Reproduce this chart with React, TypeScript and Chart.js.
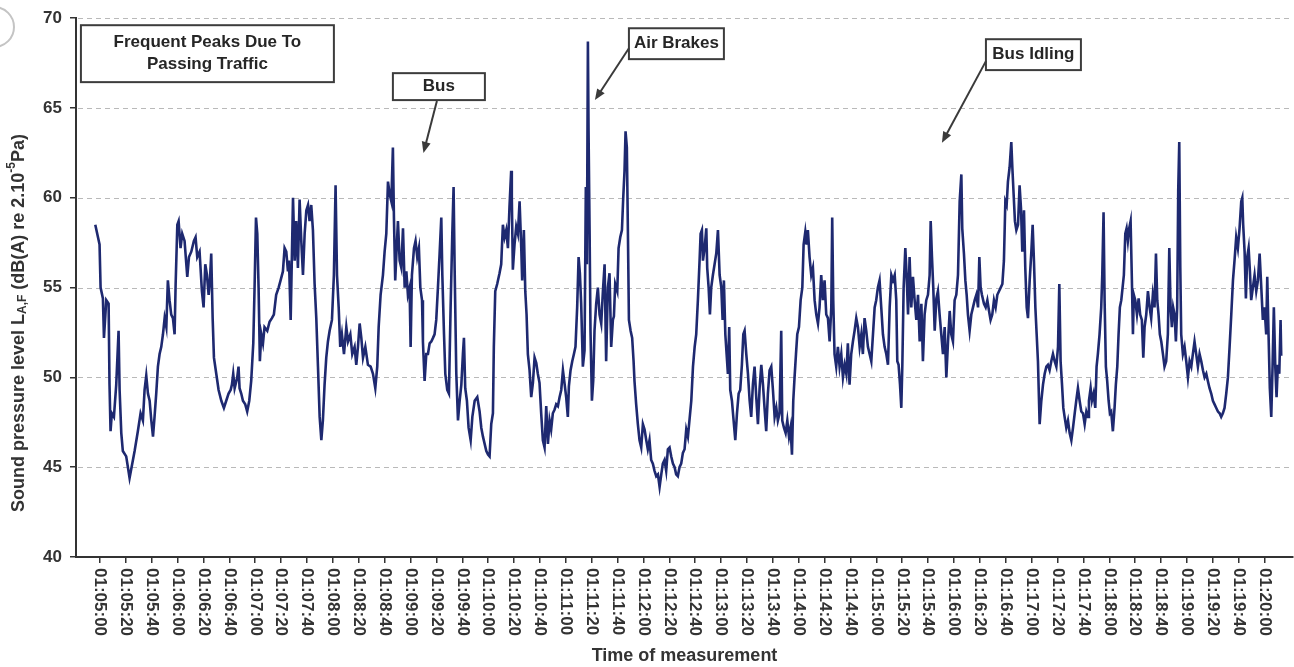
import { useEffect, useRef } from 'react';
import { Chart, registerables } from 'chart.js';

Chart.register(...registerables);

const FONT = '"Liberation Sans", Arial, Helvetica, sans-serif';

// time in seconds after 01:00:00, level in dB(A)
const SEGMENT_1: [number, number][] = [
  [296.4, 58.5], [299.7, 57.4], [300.5, 55.0], [302.3, 54.4], [303.1, 52.2], [304.9, 54.3], [306.7, 54.1], [307.4, 49.6],
  [308.2, 47.0], [309.2, 48.0], [310.8, 47.8], [312.6, 49.6], [314.4, 52.6], [315.2, 49.3], [316.5, 46.9], [317.7, 45.9],
  [320.3, 45.6], [322.9, 44.4], [325.5, 45.4], [326.8, 45.9], [329.3, 47.0], [331.4, 48.0], [333.2, 47.6], [334.5, 49.3],
  [335.8, 50.1], [337.1, 49.1], [338.4, 48.7], [339.7, 47.6], [341.0, 46.7], [342.2, 47.8], [343.5, 49.1], [344.8, 50.6],
  [346.1, 51.3], [347.4, 51.7], [348.7, 52.4], [350.0, 53.3], [351.3, 52.8], [352.5, 55.4], [353.8, 54.3], [355.1, 53.5],
  [356.4, 53.3], [357.7, 52.4], [358.5, 55.2], [359.8, 58.5], [360.8, 58.7], [362.3, 57.2], [363.6, 58.0], [365.4, 57.6],
  [367.5, 55.6], [368.8, 56.7], [370.6, 57.0], [372.6, 57.6], [373.9, 57.8], [375.2, 56.7], [377.0, 57.0], [378.8, 54.8],
  [380.1, 53.9], [381.4, 56.3], [382.7, 55.7], [384.0, 54.6], [385.0, 55.4], [386.0, 56.9], [387.1, 53.3], [388.1, 51.1],
  [389.9, 50.2], [391.7, 49.3], [393.8, 48.7], [395.8, 48.3], [397.6, 48.7], [399.4, 49.1], [401.0, 49.3], [402.0, 49.6],
  [403.0, 50.2], [404.1, 49.4], [406.1, 50.0], [407.1, 50.6], [407.9, 49.4], [409.2, 49.1], [410.5, 48.7], [412.3, 48.5],
  [413.8, 48.1], [415.4, 48.7], [416.9, 49.8], [418.5, 51.9], [419.5, 55.0], [420.6, 58.9], [421.6, 58.0], [422.6, 55.0],
  [423.6, 50.9], [424.7, 52.4], [426.0, 51.9], [427.2, 52.8], [429.3, 52.6], [431.1, 53.1], [432.9, 53.3], [434.4, 53.5],
  [436.2, 54.6], [438.1, 55.0], [439.6, 55.4], [441.4, 55.9], [442.7, 57.2], [444.0, 57.0], [445.3, 55.9],
];

const SEGMENT_2: [number, number][] = [
  [446.1, 56.5], [447.4, 53.2], [449.2, 60.0], [450.5, 56.5], [451.7, 58.7], [453.0, 56.1], [454.3, 59.9], [455.6, 57.6],
  [456.9, 55.7], [458.2, 58.0], [459.5, 59.3], [460.8, 59.6], [462.0, 58.7], [463.3, 59.6], [464.6, 58.2], [465.9, 55.2],
  [467.2, 53.3], [468.5, 50.6], [469.8, 47.8], [471.1, 46.5], [472.3, 47.6], [473.6, 49.6], [474.9, 51.1], [476.2, 52.0],
  [477.5, 52.6], [479.3, 53.2], [480.8, 55.7], [482.1, 60.7], [483.2, 55.7], [484.5, 53.9], [485.7, 51.7], [487.0, 52.4],
  [488.6, 51.3], [490.4, 52.8], [491.7, 52.0], [493.5, 52.4], [495.0, 51.3], [496.8, 51.7], [498.1, 50.7], [499.4, 51.7],
  [500.7, 53.0], [502.0, 52.2], [503.3, 51.1], [505.1, 51.7], [507.1, 50.7], [509.2, 50.6], [511.0, 50.2], [512.8, 49.4],
  [514.3, 50.6], [515.4, 52.8], [516.9, 54.6], [518.7, 55.7], [520.0, 57.0], [521.3, 58.0], [522.6, 60.9], [523.9, 60.2],
  [525.2, 59.8], [526.4, 62.8], [527.2, 58.9], [528.2, 55.4], [529.3, 57.2], [530.3, 58.7], [531.6, 56.5], [532.9, 56.1],
  [534.2, 58.3], [535.5, 55.0], [536.8, 55.9], [538.0, 54.6], [539.3, 55.0], [540.1, 51.7], [541.1, 55.7], [542.7, 57.2],
  [543.9, 57.6], [545.2, 56.7], [546.5, 57.2], [547.6, 55.0], [548.9, 54.3], [549.6, 52.0], [550.9, 49.8], [552.2, 51.3],
  [553.5, 51.3], [554.8, 51.9], [556.1, 52.0], [557.4, 52.2], [558.6, 52.4], [559.9, 53.2], [561.2, 55.0], [562.5, 56.9],
  [563.8, 58.9], [564.6, 55.7], [565.9, 52.4], [566.9, 50.2], [568.4, 49.3], [569.7, 49.1], [571.0, 53.9], [572.3, 58.0],
  [573.3, 60.6], [574.1, 56.1], [575.4, 50.2], [576.7, 47.6], [578.0, 48.7], [579.3, 49.6], [580.5, 51.3], [581.3, 52.2],
  [582.3, 49.4], [583.6, 48.7], [584.9, 47.2], [586.5, 46.5], [587.8, 47.8], [589.6, 48.7], [591.6, 48.9], [593.4, 48.1],
  [594.7, 47.2], [596.0, 46.7], [597.3, 46.3], [598.6, 45.9], [599.9, 45.7],
];

const SEGMENT_3: [number, number][] = [
  [601.1, 45.6], [602.4, 47.4], [603.7, 48.0], [604.4, 51.7], [605.5, 54.8], [607.0, 55.2], [608.8, 55.8], [610.1, 56.3],
  [611.4, 58.5], [612.7, 57.8], [614.0, 58.2], [615.3, 57.2], [616.5, 59.5], [617.8, 61.5], [618.3, 60.0], [619.1, 56.0],
  [620.4, 57.4], [621.7, 58.4], [623.0, 58.0], [624.3, 59.8], [625.6, 57.2], [626.3, 55.4], [627.6, 58.2], [628.7, 54.8],
  [629.7, 53.5], [630.7, 51.3], [632.0, 50.4], [633.3, 48.9], [634.6, 49.7], [635.9, 51.1], [637.2, 50.8], [638.4, 50.2],
  [639.7, 49.7], [641.0, 48.0], [642.3, 46.5], [643.6, 46.1], [644.9, 48.4], [646.2, 46.3], [647.5, 47.6], [648.7, 47.1],
  [650.0, 48.0], [651.3, 48.2], [652.6, 48.5], [653.9, 48.4], [655.2, 48.9], [656.5, 49.3], [657.8, 50.4], [659.0, 49.7],
  [660.3, 48.9], [661.6, 47.8], [662.4, 49.5], [663.7, 50.4], [665.0, 50.9], [666.3, 51.3], [667.5, 51.7], [668.8, 53.9],
  [669.9, 56.7], [670.9, 55.8], [671.9, 54.1], [673.2, 50.6], [674.5, 51.5], [675.5, 60.6], [676.3, 56.3], [677.1, 68.7],
  [677.6, 63.7], [678.4, 58.2], [679.1, 52.6], [680.2, 48.7], [681.2, 49.8], [682.2, 52.6], [683.5, 54.1], [684.8, 55.0],
  [686.1, 53.5], [687.4, 53.0], [688.7, 54.8], [690.0, 56.3], [691.2, 50.9], [692.5, 55.0], [693.8, 55.8], [695.1, 51.7],
  [696.4, 53.2], [697.2, 53.4], [698.2, 55.2], [699.8, 54.8], [700.8, 57.2], [702.1, 57.8], [703.4, 58.2], [704.4, 60.0],
  [705.4, 61.5], [706.2, 63.7], [707.2, 62.8], [708.0, 58.2], [708.8, 53.2], [710.1, 52.6], [711.3, 52.2], [712.4, 50.9],
  [713.1, 49.8], [714.4, 48.5], [715.7, 47.4], [717.0, 46.5], [718.3, 46.1], [719.6, 47.4], [720.9, 47.1], [722.2, 46.5],
  [723.4, 46.0], [724.7, 46.5], [726.0, 45.4], [727.3, 45.2], [728.6, 44.8], [729.9, 44.5], [731.2, 44.6], [732.5, 43.9],
  [733.8, 44.6], [735.0, 45.2], [736.3, 45.4], [737.6, 44.8], [738.9, 46.0], [740.2, 46.1], [741.5, 45.6], [742.8, 45.2],
  [744.1, 45.0], [745.3, 44.6], [746.6, 44.5], [747.9, 45.0], [749.2, 45.2], [750.5, 45.8], [751.8, 46.0], [753.1, 47.1],
];

const SEGMENT_4: [number, number][] = [
  [754.4, 46.7], [757.0, 48.7], [758.3, 50.6], [759.6, 51.7], [760.8, 52.4], [762.1, 54.3], [763.4, 56.5], [764.2, 58.0],
  [765.2, 58.2], [766.0, 56.5], [767.3, 57.2], [768.6, 58.3], [769.3, 56.1], [770.4, 55.0], [771.4, 53.5], [772.4, 55.0],
  [773.7, 55.7], [775.0, 56.3], [776.3, 56.9], [777.6, 58.2], [778.9, 55.7], [780.2, 55.0], [781.2, 53.2], [782.2, 55.4],
  [783.3, 52.4], [784.3, 51.3], [785.3, 50.2], [786.3, 52.8], [787.1, 49.3], [788.4, 48.7], [789.7, 47.6], [791.0, 46.5],
  [792.3, 48.0], [793.6, 49.1], [794.8, 49.3], [796.1, 50.7], [797.2, 52.4], [798.2, 52.6], [799.5, 51.3], [800.8, 50.2],
  [802.1, 48.7], [803.3, 47.8], [804.6, 49.6], [805.9, 50.6], [807.2, 48.9], [808.5, 47.4], [809.8, 49.4], [811.1, 50.7],
  [812.4, 49.6], [813.6, 48.3], [814.9, 47.0], [816.2, 49.1], [817.5, 50.4], [818.8, 50.6], [820.1, 49.3], [821.4, 47.8],
  [822.7, 48.3], [823.9, 47.6], [825.2, 48.0], [826.5, 52.6], [827.3, 47.6], [828.6, 47.2], [829.9, 46.9], [831.2, 47.6],
  [832.5, 46.7], [833.7, 47.2], [834.8, 45.7], [835.8, 48.7], [836.8, 50.0], [837.9, 51.3], [838.9, 52.4], [840.2, 52.8],
  [841.5, 54.3], [842.8, 55.0], [843.8, 57.4], [845.1, 58.1], [846.1, 57.4], [847.1, 58.2], [848.4, 56.7], [849.7, 55.7],
  [851.0, 56.1], [852.3, 54.3], [853.6, 53.5], [854.9, 53.0], [856.1, 53.9], [857.4, 55.7], [858.7, 54.3], [860.0, 55.4],
  [861.3, 53.5], [862.6, 53.3], [863.9, 52.0], [865.2, 53.9], [865.9, 58.9], [866.7, 54.3], [867.7, 51.3], [869.0, 50.6],
  [870.3, 51.7], [871.6, 50.6], [872.9, 51.3], [874.2, 50.0], [875.5, 50.7], [876.8, 50.2], [878.0, 51.9], [879.3, 49.6],
  [880.6, 51.3], [881.9, 52.0], [883.2, 52.6], [884.5, 53.3], [885.8, 52.8], [887.1, 51.7], [888.4, 52.4], [889.6, 51.3],
  [890.9, 53.3], [892.2, 52.6], [893.5, 51.7], [894.8, 51.3], [896.1, 50.9], [897.4, 52.4], [898.7, 53.9], [899.9, 54.3],
  [901.2, 55.0], [902.5, 55.4], [903.8, 53.9], [905.1, 52.4], [906.4, 51.7], [907.7, 51.3],
];

const SEGMENT_5: [number, number][] = [
  [909.0, 50.7], [910.3, 53.9], [911.6, 55.7], [912.9, 55.4], [914.2, 55.7], [915.4, 54.3], [916.2, 50.9], [917.2, 50.7],
  [918.3, 49.6], [919.3, 48.3], [920.1, 50.7], [921.1, 55.0], [922.4, 57.2], [923.4, 55.7], [924.5, 53.5], [925.7, 56.7],
  [927.0, 53.9], [928.3, 55.6], [929.6, 54.3], [930.9, 53.2], [932.2, 54.6], [933.5, 52.0], [934.8, 54.1], [936.0, 50.9],
  [937.3, 53.5], [938.6, 54.3], [939.9, 54.6], [941.2, 55.7], [942.0, 58.7], [943.0, 56.7], [944.0, 55.0], [945.1, 52.6],
  [946.4, 54.4], [947.6, 54.8], [948.9, 53.5], [950.2, 52.4], [951.5, 51.3], [952.8, 52.8], [954.1, 50.0], [955.4, 52.0],
  [956.7, 53.7], [957.9, 52.4], [959.2, 52.0], [960.5, 54.3], [961.8, 54.6], [963.1, 55.7], [964.4, 59.8], [965.7, 61.3],
  [966.4, 58.3], [967.7, 56.9], [968.8, 55.4], [969.8, 54.6], [970.8, 53.5], [972.1, 52.6], [973.4, 53.5], [974.7, 53.9],
  [976.0, 54.3], [977.3, 54.6], [978.6, 53.9], [979.6, 56.7], [980.6, 55.0], [981.6, 54.6], [983.2, 54.1], [984.5, 53.9],
  [985.8, 54.3], [987.1, 53.7], [988.3, 53.2], [989.6, 53.5], [990.9, 54.3], [992.2, 53.9], [993.5, 54.6], [994.8, 54.8],
  [996.1, 55.0], [997.4, 55.2], [998.6, 56.5], [999.7, 59.8], [1000.7, 59.6], [1001.7, 60.9], [1003.0, 61.7], [1004.3, 63.1],
  [1005.1, 61.7], [1006.1, 60.2], [1007.1, 58.7], [1008.2, 58.2], [1009.5, 58.5], [1010.7, 60.7], [1011.8, 59.4], [1012.8, 57.0],
  [1014.1, 59.3], [1015.1, 56.1], [1016.2, 53.9], [1017.2, 53.3], [1018.5, 55.4], [1019.8, 57.0], [1020.8, 58.5], [1021.8, 56.5],
  [1022.9, 53.9], [1023.9, 52.4], [1024.9, 50.9], [1026.2, 47.4], [1027.5, 48.7], [1028.8, 49.6], [1030.1, 50.2], [1031.4, 50.6],
  [1032.6, 50.7], [1033.9, 50.4], [1035.2, 50.9], [1036.5, 51.3], [1037.8, 50.9], [1039.1, 50.6], [1040.4, 51.7], [1041.4, 55.2],
  [1042.4, 50.9], [1043.5, 49.6], [1044.5, 48.3], [1045.5, 47.8], [1046.8, 47.2], [1048.1, 47.6], [1049.4, 46.9], [1050.7, 46.5],
  [1052.0, 47.2], [1053.3, 48.0], [1054.5, 48.7], [1055.8, 49.4], [1057.1, 48.7], [1058.4, 48.1], [1059.7, 48.0], [1061.0, 47.4],
  [1062.3, 48.1], [1063.6, 47.8],
];

const SEGMENT_6: [number, number][] = [
  [1064.3, 48.7], [1065.6, 49.4], [1066.6, 48.7], [1067.9, 49.1], [1069.2, 48.3], [1070.2, 50.6], [1071.2, 51.3], [1072.5, 52.4],
  [1073.8, 53.9], [1074.6, 55.7], [1075.6, 59.2], [1076.4, 54.3], [1077.4, 50.6], [1078.4, 49.8], [1079.5, 48.7], [1080.5, 48.0],
  [1081.5, 48.1], [1082.8, 47.0], [1084.1, 48.3], [1085.1, 49.6], [1086.2, 50.6], [1087.2, 52.4], [1088.2, 53.9], [1089.3, 54.3],
  [1090.3, 55.0], [1091.3, 55.7], [1092.4, 58.0], [1093.4, 58.3], [1094.4, 57.6], [1095.4, 58.3], [1096.5, 58.7], [1097.5, 55.4],
  [1098.3, 52.4], [1099.0, 54.6], [1100.1, 54.3], [1101.4, 53.5], [1102.7, 54.4], [1103.9, 53.5], [1105.2, 53.2], [1106.3, 51.1],
  [1107.3, 52.8], [1108.6, 53.5], [1109.9, 54.8], [1111.2, 53.9], [1112.4, 53.3], [1113.7, 54.6], [1115.0, 53.9], [1116.1, 56.9],
  [1117.1, 54.3], [1118.1, 53.5], [1119.1, 52.4], [1120.2, 52.0], [1121.5, 51.3], [1122.7, 50.6], [1124.0, 50.9], [1125.3, 52.4],
  [1126.4, 57.2], [1127.4, 53.9], [1128.4, 52.8], [1129.4, 53.9], [1130.5, 53.5], [1131.5, 52.0], [1132.5, 53.9], [1133.3, 60.4],
  [1134.1, 63.1], [1134.9, 56.1], [1135.6, 52.4], [1136.9, 51.3], [1138.2, 51.7], [1139.5, 50.9], [1140.8, 50.0], [1142.1, 50.9],
  [1143.4, 50.6], [1144.6, 51.3], [1145.9, 52.0], [1147.2, 51.3], [1148.5, 50.6], [1149.8, 51.3], [1151.1, 50.9], [1152.4, 50.4],
  [1153.7, 50.0], [1155.0, 50.2], [1156.2, 49.8], [1157.5, 49.4], [1158.8, 49.1], [1160.1, 48.7], [1161.4, 48.5], [1162.7, 48.3],
  [1164.0, 48.1], [1165.3, 48.0], [1166.5, 47.8], [1167.8, 48.0], [1169.1, 48.3], [1170.4, 49.1], [1171.7, 50.0], [1173.0, 51.7],
  [1174.3, 53.5], [1175.6, 55.4], [1176.8, 56.5], [1178.1, 57.8], [1179.4, 57.2], [1180.7, 58.3], [1182.0, 59.8], [1182.8, 60.0],
  [1183.5, 58.5], [1184.6, 57.0], [1185.6, 54.4], [1186.6, 56.7], [1187.7, 57.2], [1188.7, 55.9], [1189.7, 54.3], [1191.0, 55.0],
  [1192.3, 55.7], [1193.6, 54.8], [1194.9, 55.4], [1196.2, 56.9], [1197.5, 55.0], [1198.7, 53.2], [1200.0, 53.9], [1201.3, 52.4],
  [1202.1, 55.6], [1203.1, 52.4], [1204.1, 49.4], [1205.2, 47.8], [1206.2, 50.6], [1207.2, 53.9], [1208.3, 50.6], [1209.3, 48.9],
  [1210.3, 50.7], [1211.4, 50.2], [1212.4, 53.2], [1212.9, 51.2],
];

const TICK_LABELS = [
  '01:05:00', '01:05:20', '01:05:40', '01:06:00', '01:06:20', '01:06:40', '01:07:00', '01:07:20', '01:07:40', '01:08:00',
  '01:08:20', '01:08:40', '01:09:00', '01:09:20', '01:09:40', '01:10:00', '01:10:20', '01:10:40', '01:11:00', '01:11:20',
  '01:11:40', '01:12:00', '01:12:20', '01:12:40', '01:13:00', '01:13:20', '01:13:40', '01:14:00', '01:14:20', '01:14:40',
  '01:15:00', '01:15:20', '01:15:40', '01:16:00', '01:16:20', '01:16:40', '01:17:00', '01:17:20', '01:17:40', '01:18:00',
  '01:18:20', '01:18:40', '01:19:00', '01:19:20', '01:19:40', '01:20:00',
];

const Y_TICKS = [40, 45, 50, 55, 60, 65, 70];
const X_MIN = 281.5;
const X_MAX = 1222;

// annotation boxes in data units
const NOTE_BOXES: { lines: string[]; t0: number; vTop: number; t1: number; vBottom: number }[] = [
  { lines: ['Frequent Peaks Due To', 'Passing Traffic'], t0: 285.3, vTop: 69.61, t1: 480.8, vBottom: 66.44 },
  { lines: ['Bus'], t0: 526.4, vTop: 66.94, t1: 597.5, vBottom: 65.44 },
  { lines: ['Air Brakes'], t0: 708.8, vTop: 69.44, t1: 782.2, vBottom: 67.72 },
  { lines: ['Bus Idling'], t0: 984.7, vTop: 68.83, t1: 1058.1, vBottom: 67.11 },
];
// arrows: from (t, v) to (t, v)
const NOTE_ARROWS: [number, number, number, number][] = [
  [560.4, 65.39, 550.0, 62.5],
  [708.8, 68.33, 682.5, 65.44],
  [984.7, 67.61, 950.7, 63.06],
];

const toSeconds = (label: string) => {
  const [h, m, s] = label.split(':').map(Number);
  return (h - 1) * 3600 + m * 60 + s;
};

const decorPlugin = {
  id: 'decor',
  beforeDatasetsDraw(chart: any) {
    const { ctx, chartArea, scales } = chart;
    ctx.save();
    ctx.strokeStyle = '#b9b9b9';
    ctx.lineWidth = 1;
    ctx.setLineDash([5, 4]);
    Y_TICKS.filter((v) => v > 40).forEach((v) => {
      const y = Math.round(scales.y.getPixelForValue(v)) + 0.5;
      ctx.beginPath();
      ctx.moveTo(chartArea.left + 2, y);
      ctx.lineTo(chartArea.right, y);
      ctx.stroke();
    });
    ctx.restore();
  },
  afterDraw(chart: any) {
    const { ctx, chartArea, scales } = chart;
    const xs = scales.x;
    const ys = scales.y;
    ctx.save();

    // x tick labels, rotated clockwise
    ctx.fillStyle = '#333';
    ctx.font = `bold 17px ${FONT}`;
    ctx.textAlign = 'left';
    ctx.textBaseline = 'middle';
    TICK_LABELS.forEach((lbl) => {
      const x = xs.getPixelForValue(toSeconds(lbl));
      ctx.save();
      ctx.translate(x, chartArea.bottom + 11);
      ctx.rotate(Math.PI / 2);
      ctx.fillText(lbl, 0, 0);
      ctx.restore();
    });

    // x title
    ctx.font = `bold 18px ${FONT}`;
    ctx.textAlign = 'center';
    ctx.textBaseline = 'middle';
    ctx.fillStyle = '#333';
    ctx.fillText('Time of measurement', (chartArea.left + chartArea.right) / 2, 656);

    // y title with sub/superscripts
    const parts: { t: string; size: number; dy: number }[] = [
      { t: 'Sound pressure level L', size: 18, dy: 0 },
      { t: 'A,F', size: 12, dy: 4 },
      { t: ' (dB(A) re 2.10', size: 18, dy: 0 },
      { t: '-5', size: 12, dy: -7 },
      { t: 'Pa)', size: 18, dy: 0 },
    ];
    let total = 0;
    parts.forEach((p) => {
      ctx.font = `bold ${p.size}px ${FONT}`;
      total += ctx.measureText(p.t).width;
    });
    ctx.save();
    ctx.translate(19, 323);
    ctx.rotate(-Math.PI / 2);
    ctx.textAlign = 'left';
    ctx.textBaseline = 'middle';
    let cx = -total / 2;
    parts.forEach((p) => {
      ctx.font = `bold ${p.size}px ${FONT}`;
      ctx.fillText(p.t, cx, p.dy);
      cx += ctx.measureText(p.t).width;
    });
    ctx.restore();

    // annotation boxes
    NOTE_BOXES.forEach((b) => {
      const x0 = xs.getPixelForValue(b.t0);
      const x1 = xs.getPixelForValue(b.t1);
      const y0 = ys.getPixelForValue(b.vTop);
      const y1 = ys.getPixelForValue(b.vBottom);
      ctx.fillStyle = '#fff';
      ctx.fillRect(x0, y0, x1 - x0, y1 - y0);
      ctx.strokeStyle = '#3c3c3c';
      ctx.lineWidth = 2;
      ctx.strokeRect(x0, y0, x1 - x0, y1 - y0);
      ctx.fillStyle = '#262626';
      ctx.font = `bold 17px ${FONT}`;
      ctx.textAlign = 'center';
      ctx.textBaseline = 'middle';
      const lh = 22;
      const cy = (y0 + y1) / 2 - ((b.lines.length - 1) * lh) / 2;
      b.lines.forEach((ln, i) => ctx.fillText(ln, (x0 + x1) / 2, cy + i * lh));
    });

    // arrows
    NOTE_ARROWS.forEach(([ta, va, tb, vb]) => {
      const ax = xs.getPixelForValue(ta);
      const ay = ys.getPixelForValue(va);
      const bx = xs.getPixelForValue(tb);
      const by = ys.getPixelForValue(vb);
      const ang = Math.atan2(by - ay, bx - ax);
      const hl = 11;
      const hw = 4.5;
      ctx.strokeStyle = '#3a3a3a';
      ctx.fillStyle = '#3a3a3a';
      ctx.lineWidth = 2;
      ctx.beginPath();
      ctx.moveTo(ax, ay);
      ctx.lineTo(bx - Math.cos(ang) * hl * 0.8, by - Math.sin(ang) * hl * 0.8);
      ctx.stroke();
      ctx.beginPath();
      ctx.moveTo(bx, by);
      ctx.lineTo(bx - Math.cos(ang) * hl - Math.sin(ang) * hw, by - Math.sin(ang) * hl + Math.cos(ang) * hw);
      ctx.lineTo(bx - Math.cos(ang) * hl + Math.sin(ang) * hw, by - Math.sin(ang) * hl - Math.cos(ang) * hw);
      ctx.closePath();
      ctx.fill();
    });

    // faint circle fragment at the top-left edge
    ctx.strokeStyle = '#c4c4c4';
    ctx.lineWidth = 2;
    ctx.beginPath();
    ctx.arc(-6, 27, 20, -Math.PI / 2, Math.PI / 2);
    ctx.stroke();

    ctx.restore();
  },
};

export default function App() {
  const canvasRef = useRef<HTMLCanvasElement | null>(null);

  useEffect(() => {
    document.body.style.margin = '0';
    const canvas = canvasRef.current;
    if (!canvas) return;
    const points = [...SEGMENT_1, ...SEGMENT_2, ...SEGMENT_3, ...SEGMENT_4, ...SEGMENT_5, ...SEGMENT_6].map(
      ([t, v]) => ({ x: t, y: v })
    );
    const chart = new Chart(canvas, {
      type: 'line',
      data: {
        datasets: [
          {
            data: points,
            borderColor: '#1e2970',
            borderWidth: 2.6,
            borderJoinStyle: 'miter',
            pointRadius: 0,
            tension: 0,
            fill: false,
          },
        ],
      },
      options: {
        responsive: false,
        animation: false,
        devicePixelRatio: 1,
        layout: { padding: { top: 17, right: 1, left: 0, bottom: 0 } },
        plugins: { legend: { display: false }, tooltip: { enabled: false } },
        scales: {
          x: {
            type: 'linear',
            min: X_MIN,
            max: X_MAX,
            afterBuildTicks: (scale: any) => {
              scale.ticks = TICK_LABELS.map((l) => ({ value: toSeconds(l) }));
            },
            afterFit: (scale: any) => {
              scale.height = 110;
            },
            ticks: { display: false },
            grid: { display: true, drawOnChartArea: false, drawTicks: true, tickLength: 6, color: '#333', lineWidth: 1.5 },
            border: { display: true, color: '#333', width: 2 },
          },
          y: {
            min: 40,
            max: 70,
            afterBuildTicks: (scale: any) => {
              scale.ticks = Y_TICKS.map((v) => ({ value: v }));
            },
            afterFit: (scale: any) => {
              scale.width = 76;
            },
            ticks: { color: '#333', font: { family: FONT, size: 17, weight: 'bold' }, padding: 8 },
            grid: { display: true, drawOnChartArea: false, drawTicks: true, tickLength: 6, color: '#333', lineWidth: 1.5 },
            border: { display: true, color: '#333', width: 2 },
          },
        },
      },
      plugins: [decorPlugin],
    } as any);
    return () => chart.destroy();
  }, []);

  return (
    <div style={{ width: 1294, height: 667, position: 'relative', background: '#fff' }}>
      <canvas ref={canvasRef} width={1294} height={667} style={{ display: 'block', width: 1294, height: 667 }} />
    </div>
  );
}
